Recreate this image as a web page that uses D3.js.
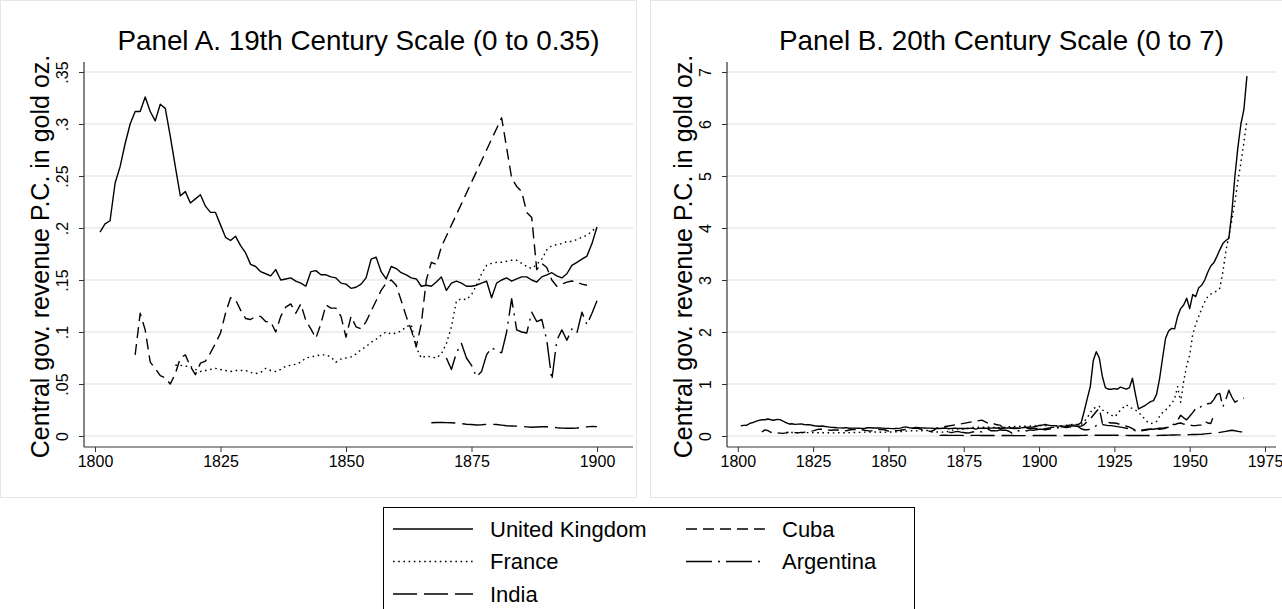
<!DOCTYPE html>
<html>
<head>
<meta charset="utf-8">
<script src="https://cdn.jsdelivr.net/npm/d3@7"></script>
<style>
  body { margin: 0; background: #fff; }
  svg { display: block; font-family: "Liberation Sans", Arial, Helvetica, sans-serif; }
</style>
</head>
<body>
<svg id="chart" width="1282" height="609"></svg>
<script>
// data (gold oz. per capita), one value per year
const ukStart = 1801;
const ukValues = [
  0.196, 0.204, 0.207, 0.243, 0.259, 0.281, 0.300, 0.312, 0.312, 0.326,
  0.312, 0.303, 0.319, 0.315, 0.288, 0.259, 0.231, 0.235, 0.224, 0.228,
  0.232, 0.221, 0.215, 0.215, 0.203, 0.191, 0.188, 0.192, 0.183, 0.176,
  0.165, 0.163, 0.158, 0.156, 0.154, 0.160, 0.150, 0.151, 0.152, 0.149,
  0.147, 0.144, 0.158, 0.159, 0.155, 0.155, 0.153, 0.152, 0.147, 0.146,
  0.142, 0.143, 0.146, 0.152, 0.170, 0.172, 0.158, 0.151, 0.163, 0.161,
  0.157, 0.155, 0.152, 0.151, 0.144, 0.145, 0.144, 0.148, 0.153, 0.140,
  0.147, 0.149, 0.147, 0.144, 0.144, 0.145, 0.147, 0.149, 0.133, 0.147,
  0.150, 0.152, 0.149, 0.151, 0.153, 0.153, 0.150, 0.148, 0.153, 0.155,
  0.157, 0.154, 0.152, 0.156, 0.164, 0.167, 0.170, 0.173, 0.185, 0.201,
  0.21, 0.22, 0.21, 0.20, 0.20, 0.19, 0.19, 0.19, 0.19, 0.21,
  0.21, 0.21, 0.22, 0.26, 0.48, 0.72, 0.95, 1.45, 1.62, 1.50,
  1.15, 0.93, 0.90, 0.90, 0.91, 0.90, 0.94, 0.92, 0.90, 0.93,
  1.11, 0.80, 0.52, 0.55, 0.58, 0.62, 0.66, 0.68, 0.80, 1.10,
  1.50, 1.88, 2.02, 2.07, 2.06, 2.30, 2.45, 2.52, 2.65, 2.45,
  2.72, 2.68, 2.85, 2.90, 3.00, 3.15, 3.27, 3.33, 3.45, 3.58,
  3.70, 3.76, 3.80, 4.30, 4.99, 5.55, 6.00, 6.28, 6.92
];

const franceStart = 1816;
const franceValues = [
  0.068, 0.068, 0.067, 0.067, 0.064, 0.062, 0.063, 0.064, 0.065, 0.064,
  0.063, 0.062, 0.063, 0.063, 0.063,
  0.061, 0.060, 0.061, 0.065, 0.063, 0.062, 0.064, 0.067, 0.068, 0.069,
  0.071, 0.075, 0.076, 0.077, 0.078, 0.078, 0.076, 0.071, 0.074, 0.075,
  0.076, 0.079, 0.083, 0.086, 0.090, 0.093, 0.097, 0.100, 0.098, 0.099,
  0.101, 0.105, 0.107, 0.085, 0.075, 0.077, 0.076, 0.075, 0.079, 0.089,
  0.105, 0.130, 0.132, 0.131, 0.136, 0.145, 0.156, 0.164, 0.166, 0.167,
  0.167, 0.168, 0.169, 0.169, 0.166, 0.163, 0.161, 0.165, 0.170, 0.179,
  0.183, 0.184, 0.185, 0.187, 0.187, 0.189, 0.191, 0.193, 0.197, 0.201,
  0.20, 0.20, 0.20, 0.20, 0.20, 0.20, 0.20, 0.20, 0.21, 0.21,
  0.22, 0.22, 0.22, 0.22, 0.28, 0.35, 0.45, 0.53, 0.55, 0.57,
  0.50, 0.47, 0.44, 0.40, 0.37, 0.42, 0.50, 0.55, 0.60, 0.55,
  0.53, 0.50, 0.45, 0.40, 0.33, 0.27, 0.24, 0.25, 0.28, 0.38,
  0.45, 0.50, 0.56, 0.62, 0.72, 0.95, 0.65, 1.05, 1.35, 1.56,
  1.95, 2.15, 2.30, 2.45, 2.58, 2.68, 2.73, 2.76, 2.79, 2.84,
  3.15, 3.55, 3.85, 4.15, 4.50, 4.90, 5.25, 5.65, 6.07
];

// null = year not in the data (line is connected across the gap)
const cubaStart = 1808;
const cubaValues = [
  0.078, 0.118, 0.102, 0.071, 0.065, 0.058, 0.056, 0.050, 0.060, 0.075,
  0.078, 0.067, 0.059, 0.070, 0.072, 0.080, 0.089, 0.099, 0.118, 0.133,
  0.131, 0.121, 0.113, 0.112, 0.115, 0.115, 0.110, 0.110, 0.100, 0.115,
  0.124, 0.127, 0.118, 0.127, 0.111, 0.103, 0.094, 0.108, 0.126, 0.123,
  0.123, 0.115, 0.095, 0.115, 0.105, 0.103, 0.110, 0.120, 0.130, 0.140,
  0.147, 0.150, 0.145, 0.130, 0.115, 0.102, 0.086, 0.108, 0.150, 0.167,
  0.165, 0.182,
  null, null, null, null, null, null, null, null, null, null, null,
  0.306, 0.277, 0.248, 0.240, 0.235, 0.215, 0.210, 0.160, 0.166, 0.162,
  0.150, 0.144, 0.146, 0.148, 0.149, 0.148, 0.146, 0.145,
  null, null, null,
  0.14, 0.15, 0.16, 0.17, 0.17, 0.18, 0.17, 0.16, 0.17, 0.18,
  0.18, 0.19, 0.19, 0.22, 0.28, 0.33, 0.40, 0.47, 0.53, 0.25,
  0.27, 0.26, 0.25, 0.25, 0.24, 0.22, 0.20, 0.19, 0.17, 0.14,
  0.11, 0.10, 0.11, 0.12, 0.13, 0.13, 0.14, 0.14, 0.13, 0.14,
  0.15, 0.17, 0.20, 0.22, 0.24, 0.25, 0.23, 0.22, 0.21, 0.20,
  0.20, 0.21, 0.21, 0.28, 0.25, 0.24, 0.40
];

const argentinaStart = 1870;
const argentinaValues = [
  0.075, 0.064, 0.080, 0.089, 0.075, 0.068, 0.057, 0.062, 0.078, 0.085,
  0.082, 0.080, 0.100, 0.132, 0.102, 0.100, 0.099, 0.119, 0.110, 0.112,
  0.092, 0.054, 0.092, 0.102, 0.092, 0.103, 0.099, 0.119, 0.107, 0.118,
  0.130,
  0.13, 0.12, 0.13, 0.14, 0.15, 0.16, 0.16, 0.16, 0.18, 0.19,
  0.19, 0.19, 0.18, 0.14, 0.12, 0.12, 0.13, 0.16, 0.20, 0.23,
  0.22, 0.21, 0.20, 0.20, 0.19, 0.18, 0.17, 0.16, 0.15, 0.14,
  0.12, 0.10, 0.09, 0.10, 0.11, 0.12, 0.13, 0.13, 0.14, 0.15,
  0.15, 0.16, 0.18, 0.20, 0.24, 0.30, 0.40, 0.35, 0.31, 0.38,
  0.45, 0.53, 0.52, 0.58, 0.61, 0.62, 0.63, 0.70, 0.80, 0.82,
  0.56, 0.70, 0.88, 0.75, 0.65, 0.68, 0.70, 0.73
];

const indiaStart = 1867;
const indiaValues = [
  0.0128, 0.0130, 0.0130, 0.0129, 0.0127, 0.0125, 0.0118, 0.0113, 0.0110, 0.0106,
  0.0108, 0.0112, 0.0112, 0.0111, 0.0105, 0.0098, 0.0096, 0.0095, 0.0092, 0.0088,
  0.0084, 0.0086, 0.0089, 0.0090, 0.0086, 0.0080, 0.0076, 0.0074, 0.0074, 0.0077,
  0.0082, 0.0088, 0.0093,
  0.009, 0.009, 0.009, 0.010, 0.010, 0.010, 0.010, 0.010, 0.010, 0.010,
  0.011, 0.011, 0.011, 0.011, 0.012, 0.012, 0.013, 0.014, 0.015, 0.016,
  0.015, 0.015, 0.014, 0.014, 0.014, 0.014, 0.013, 0.013, 0.013, 0.012,
  0.011, 0.010, 0.010, 0.010, 0.010, 0.010, 0.010, 0.010, 0.010, 0.011,
  0.012, 0.013, 0.014, 0.016, 0.018, 0.020, 0.022, 0.022, 0.023, 0.025,
  0.026, 0.028, 0.030, 0.032, 0.035, 0.040, 0.045, 0.050, 0.055, 0.060,
  0.070, 0.080, 0.090, 0.100, 0.110, 0.100, 0.090, 0.080, 0.080
];

const panelTitles = ["Panel A. 19th Century Scale (0 to 0.35)", "Panel B. 20th Century Scale (0 to 7)"];
const yAxisTitle = "Central gov. revenue P.C. in gold oz.";
const yTicksA = [0, 0.05, 0.1, 0.15, 0.2, 0.25, 0.3, 0.35];
const yTicksB = [0, 1, 2, 3, 4, 5, 6, 7];
const xTicksA = [1800, 1825, 1850, 1875, 1900];
const xTicksB = [1800, 1825, 1850, 1875, 1900, 1925, 1950, 1975];

// stata-like line patterns
const series = [
  { name: "United Kingdom", start: ukStart, values: ukValues, dash: null },
  { name: "France", start: franceStart, values: franceValues, dash: "1.6,3.6" },
  { name: "India", start: indiaStart, values: indiaValues, dash: "24,7" },
  { name: "Cuba", start: cubaStart, values: cubaValues, dash: "11,6" },
  { name: "Argentina", start: argentinaStart, values: argentinaValues, dash: "26,6,2,6" }
];
series.forEach((s) => {
  s.points = s.values
    .map((v, i) => ({ year: s.start + i, value: v }))
    .filter((d) => d.value !== null);
});

const svg = d3.select("#chart");
const lineWidth = 1.4;

// light frames of the two graphs
svg.append("rect").attr("x", 0.5).attr("y", 0.5).attr("width", 636).attr("height", 497)
  .attr("fill", "none").attr("stroke", "#e6e6e6");
svg.append("rect").attr("x", 650.5).attr("y", 0.5).attr("width", 640).attr("height", 497)
  .attr("fill", "none").attr("stroke", "#e6e6e6");

function drawPanel(opt) {
  const g = svg.append("g");
  const top = 62, bottom = 447;

  const x = d3.scaleLinear().domain(opt.xDomain).range(opt.xRange);
  const y = d3.scaleLinear().domain([0, opt.yMax]).range([436, 72]);

  // gridlines
  g.append("g")
    .selectAll("line")
    .data(opt.yTicks)
    .join("line")
    .attr("x1", opt.left)
    .attr("x2", opt.right)
    .attr("y1", (d) => y(d))
    .attr("y2", (d) => y(d))
    .attr("stroke", "#e8e8e8")
    .attr("stroke-width", 1.3);

  // x axis
  const xAxis = d3.axisBottom(x).tickValues(opt.xTicks).tickSize(5).tickFormat(d3.format("d"));
  const gx = g.append("g").attr("transform", `translate(0, ${bottom})`).call(xAxis);
  gx.select(".domain").remove();
  gx.selectAll("line").attr("stroke", "#333");
  gx.selectAll("text").attr("y", 9).style("font-size", "16px").attr("fill", "#000");
  g.append("line").attr("x1", opt.left).attr("x2", opt.right)
    .attr("y1", bottom).attr("y2", bottom).attr("stroke", "#333").attr("stroke-width", 1.2);

  // y axis, labels turned like stata does
  const yAxis = d3.axisLeft(y).tickValues(opt.yTicks).tickSize(5).tickFormat(opt.fmt);
  const gy = g.append("g").attr("transform", `translate(${opt.left}, 0)`).call(yAxis);
  gy.select(".domain").remove();
  gy.selectAll("line").attr("stroke", "#333");
  gy.selectAll("text")
    .attr("x", null)
    .attr("text-anchor", "middle")
    .attr("dy", "0.35em")
    .attr("transform", "translate(-22, 0) rotate(-90)")
    .style("font-size", "16px")
    .attr("fill", "#000");
  g.append("line").attr("x1", opt.left).attr("x2", opt.left)
    .attr("y1", top).attr("y2", bottom).attr("stroke", "#333").attr("stroke-width", 1.2);

  // titles
  g.append("text")
    .attr("x", (opt.left + opt.right) / 2)
    .attr("y", 50)
    .attr("text-anchor", "middle")
    .style("font-size", "27.8px")
    .text(opt.title);
  g.append("text")
    .attr("transform", `translate(${opt.left - 44}, ${(top + bottom) / 2 + 2}) rotate(-90)`)
    .attr("text-anchor", "middle")
    .attr("dy", "0.35em")
    .style("font-size", "25px")
    .text(yAxisTitle);

  // lines
  const line = d3.line().x((d) => x(d.year)).y((d) => y(d.value));
  series.forEach((s) => {
    const pts = s.points.filter((d) => d.year <= opt.xDomain[1]);
    g.append("path")
      .datum(pts)
      .attr("d", line)
      .attr("fill", "none")
      .attr("stroke", "#000")
      .attr("stroke-width", lineWidth)
      .attr("stroke-linejoin", "round")
      .attr("stroke-dasharray", s.dash);
  });
}

const fmtA = (d) => (d === 0 ? "0" : String(+d.toFixed(2)).replace(/^0/, ""));

drawPanel({
  title: panelTitles[0],
  xDomain: [1800, 1900], xRange: [95, 597],
  left: 84, right: 633,
  yMax: 0.35, yTicks: yTicksA, xTicks: xTicksA, fmt: fmtA
});
drawPanel({
  title: panelTitles[1],
  xDomain: [1800, 1975], xRange: [737.8, 1265],
  left: 727, right: 1276,
  yMax: 7, yTicks: yTicksB, xTicks: xTicksB, fmt: d3.format("d")
});

// legend
const legendOrder = ["United Kingdom", "Cuba", "France", "Argentina", "India"];
const legend = svg.append("g");
legend.append("rect").attr("x", 383.5).attr("y", 507.5).attr("width", 531).attr("height", 130)
  .attr("fill", "#fff").attr("stroke", "#000").attr("stroke-width", 1);
legendOrder.forEach((name, i) => {
  const s = series.find((d) => d.name === name);
  const col = i % 2, row = Math.floor(i / 2);
  const lx = col === 0 ? 393 : 686;
  const ly = 529 + row * 32.5;
  legend.append("line")
    .attr("x1", lx).attr("x2", lx + 80).attr("y1", ly).attr("y2", ly)
    .attr("stroke", "#000").attr("stroke-width", lineWidth)
    .attr("stroke-dasharray", s.dash);
  legend.append("text")
    .attr("x", col === 0 ? 490 : 782)
    .attr("y", ly)
    .attr("dy", "0.36em")
    .style("font-size", "22px")
    .text(name);
});
</script>
</body>
</html>
